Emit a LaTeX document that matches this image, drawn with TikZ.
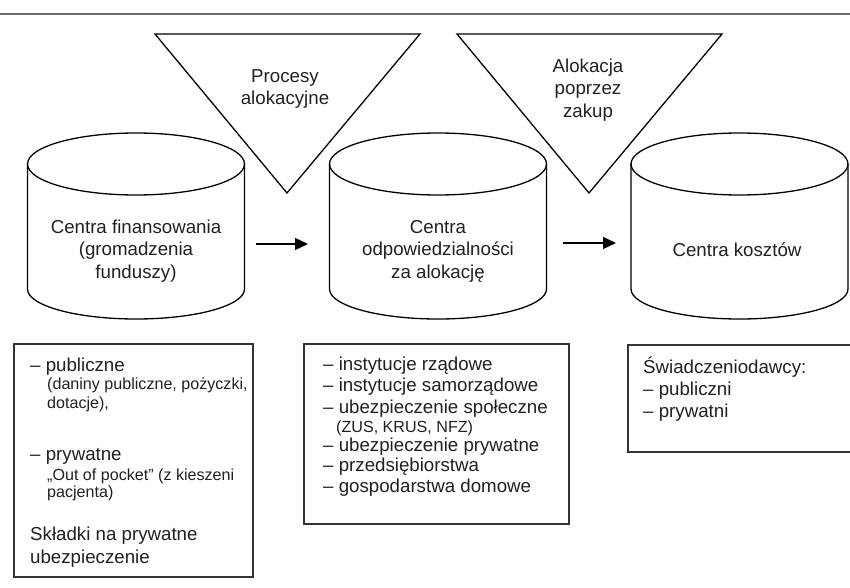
\documentclass[tikz,border=0pt]{standalone}
\usepackage{fontspec}
\setmainfont{Liberation Sans}
\usetikzlibrary{arrows.meta}
\definecolor{txt}{HTML}{231F20}
\definecolor{rulegray}{HTML}{6B6B6B}
\definecolor{boxline}{HTML}{333333}
\newcommand\drawcyl[1]{%
  \draw[shapeline] (#1-108.5,164) -- (#1-108.5,289)
    arc[start angle=180,end angle=0,x radius=108.5,y radius=30] -- (#1+108.5,164);
  \draw[shapeline] (#1,164) ellipse[x radius=108.5,y radius=31];}
\begin{document}
\begin{tikzpicture}[x=1pt,y=-1pt,
  shapeline/.style={line width=1.3pt, draw=black},
  boxframe/.style={line width=1.6pt, draw=boxline},
  big/.style={font=\fontsize{18.7}{22.5}\selectfont, text=txt, inner sep=0pt},
  small/.style={font=\fontsize{16.1}{17}\selectfont, text=txt, inner sep=0pt},
  flow/.style={line width=1.3pt, -{Triangle[length=13pt,width=12pt]}}]
\useasboundingbox (0,0) rectangle (850,588);
\draw[rulegray, line width=2pt] (0,14.5) -- (850,14.5);

% triangles
\draw[shapeline, line join=miter] (155,34) -- (420,34) -- (287,193) -- cycle;
\draw[shapeline, line join=miter] (457,34) -- (722,34) -- (589,193) -- cycle;
\node[big, align=center] (triA) at (285,89) {Procesy\\alokacyjne};
\node[big, align=center] (triB) at (588,90) {Alokacja\\poprzez\\zakup};

% cylinders
\drawcyl{136}
\drawcyl{438}
\drawcyl{739.5}
\node[big, align=center] (cylA) at (136,251) {Centra finansowania\\(gromadzenia\\funduszy)};
\node[big, align=center] (cylB) at (438,251) {Centra\\odpowiedzialności\\za alokację};
\node[big, align=center] (cylC) at (737,250) {Centra kosztów};

% arrows
\coordinate (a1s) at (256,244);
\coordinate (a1e) at (308,244);
\coordinate (a2s) at (563,243);
\coordinate (a2e) at (616,243);
\draw[flow] (a1s) -- (a1e);
\draw[flow] (a2s) -- (a2e);

% box 1
\draw[boxframe] (14,344) rectangle (253,577);
\node[big, anchor=base west] (b1a) at (30,371) {– publiczne};
\node[small, anchor=base west] (b1b) at (47,389.5) {(daniny publiczne, pożyczki,};
\node[small, anchor=base west] (b1c) at (47,408) {dotacje),};
\node[big, anchor=base west] (b1d) at (30,460) {– prywatne};
\node[small, anchor=base west] (b1e) at (47,480) {„Out of pocket” (z kieszeni};
\node[small, anchor=base west] (b1f) at (47,497.5) {pacjenta)};
\node[big, anchor=base west] (b1g) at (30,540.5) {Składki na prywatne};
\node[big, anchor=base west] (b1h) at (30,563) {ubezpieczenie};

% box 2
\draw[boxframe] (304,344) rectangle (569,524);
\node[big, anchor=base west] (b2a) at (323,370) {– instytucje rządowe};
\node[big, anchor=base west] (b2b) at (323,391.5) {– instytucje samorządowe};
\node[big, anchor=base west] (b2c) at (323,413) {– ubezpieczenie społeczne};
\node[small, anchor=base west] (b2d) at (336,432) {(ZUS, KRUS, NFZ)};
\node[big, anchor=base west] (b2e) at (323,451) {– ubezpieczenie prywatne};
\node[big, anchor=base west] (b2f) at (323,471.5) {– przedsiębiorstwa};
\node[big, anchor=base west] (b2g) at (323,492) {– gospodarstwa domowe};

% box 3
\draw[boxframe] (850,345) -- (628,345) -- (628,452) -- (850,452);
\node[big, anchor=base west] (b3a) at (643,373.5) {Świadczeniodawcy:};
\node[big, anchor=base west] (b3b) at (643,395) {– publiczni};
\node[big, anchor=base west] (b3c) at (643,417) {– prywatni};
\end{tikzpicture}
\end{document}
